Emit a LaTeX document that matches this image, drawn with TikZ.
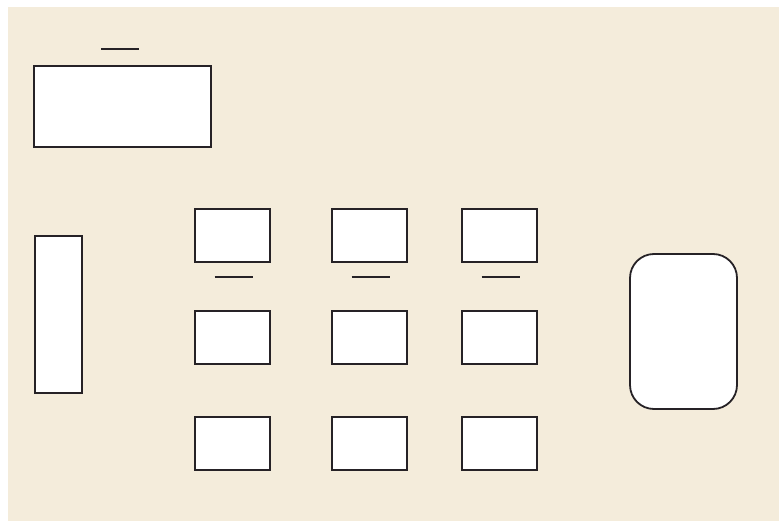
\documentclass[tikz,border=0pt]{standalone}
\usetikzlibrary{positioning}
\definecolor{paper}{RGB}{244,236,219}
\definecolor{ink}{RGB}{38,34,38}
\tikzset{
  ansbox/.style={draw=ink,fill=white,line width=1.8pt,inner sep=0pt},
  fracbar/.style={draw=ink,line width=2.4pt}
}
\begin{document}
\begin{tikzpicture}[x=1pt,y=-1pt]
  \useasboundingbox (0,0) rectangle (779,521);
  \fill[white] (0,0) rectangle (779,521);
  \fill[paper] (8,7) rectangle (779,521);
  % big box and its bar
  \node[ansbox,minimum width=177pt,minimum height=81pt] (big) at (122.5,106.5) {};
  \draw[fracbar] (101,49) -- (139,49);
  % tall box
  \node[ansbox,minimum width=47pt,minimum height=157pt] (tall) at (58.5,314.5) {};
  % grid of boxes
  \foreach \x/\c in {232.5/a,369.5/b,499.5/c}
    \foreach \y/\r in {235.5/1,337.5/2,443.5/3}
      \node[ansbox,minimum width=75pt,minimum height=53pt] (\c\r) at (\x,\y) {};
  \foreach \c in {a,b,c}
    \draw[fracbar] ([xshift=-18pt,yshift=-14pt]\c1.south) -- ([xshift=20pt,yshift=-14pt]\c1.south);
  % rounded box
  \node[ansbox,rounded corners=24pt,minimum width=107pt,minimum height=155pt] (jar) at (683.5,331.5) {};
\end{tikzpicture}
\end{document}
